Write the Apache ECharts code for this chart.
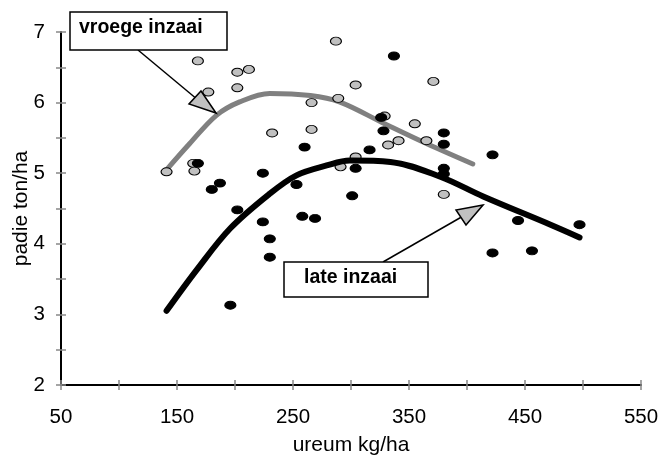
<!DOCTYPE html>
<html>
<head>
<meta charset="utf-8">
<script src="https://cdn.jsdelivr.net/npm/echarts@6/dist/echarts.min.js"></script>
<style>
  html, body { margin: 0; padding: 0; background: #fff; }
  #chart { width: 668px; height: 455px; }
</style>
</head>
<body>
<div id="chart"></div>
<script>
// scatter: vroege inzaai (grijs)
const vroegeX = [168, 202, 212, 202, 177, 266, 232, 266, 164, 165, 141, 287, 371, 304, 289, 329, 355, 341, 332, 365, 304, 291, 380];
const vroegeY = [6.59, 6.43, 6.47, 6.21, 6.15, 6.00, 5.57, 5.62, 5.14, 5.03, 5.02, 6.87, 6.30, 6.25, 6.06, 5.81, 5.70, 5.46, 5.40, 5.46, 5.23, 5.09, 4.70];
// scatter: late inzaai (zwart)
const lateX = [168, 224, 187, 180, 253, 260, 202, 224, 258, 269, 230, 230, 196, 337, 326, 328, 380, 380, 316, 422, 304, 380, 380, 301, 444, 497, 422, 456];
const lateY = [5.14, 5.00, 4.86, 4.77, 4.84, 5.37, 4.48, 4.31, 4.39, 4.36, 4.07, 3.81, 3.13, 6.66, 5.79, 5.60, 5.57, 5.41, 5.33, 5.26, 5.07, 5.07, 4.99, 4.68, 4.33, 4.27, 3.87, 3.90];
// trendlijnen
const vroegeCurveX = [140, 161, 184, 204, 230, 265, 290, 329, 365, 405];
const vroegeCurveY = [5.03, 5.42, 5.82, 6.01, 6.13, 6.10, 6.01, 5.70, 5.42, 5.13];
const lateCurveX = [141, 167, 196, 230, 253, 279, 299, 334, 377, 414, 472, 497];
const lateCurveY = [3.05, 3.63, 4.22, 4.71, 4.97, 5.11, 5.18, 5.16, 4.95, 4.67, 4.27, 4.09];
// assen
const xTicks = [50, 150, 250, 350, 450, 550];
const yTicks = [2, 3, 4, 5, 6, 7];

function zip(xs, ys) {
  return xs.map((x, i) => [x, ys[i]]);
}

const font = '"Liberation Sans", Arial, sans-serif';
const tickColor = '#888';
const tickStyle = { color: tickColor, width: 1.5 };

const chart = echarts.init(document.getElementById('chart'));

const baseX = {
  type: 'value',
  position: 'bottom',
  min: xTicks[0],
  max: xTicks[xTicks.length - 1],
  interval: 100,
  splitLine: { show: false }
};
const baseY = {
  type: 'value',
  position: 'left',
  min: yTicks[0],
  max: yTicks[yTicks.length - 1],
  interval: 1,
  splitLine: { show: false }
};

chart.setOption({
  animation: false,
  grid: { left: 61, right: 27, top: 32, bottom: 70, containLabel: false, outerBoundsMode: 'none' },
  xAxis: [
    Object.assign({}, baseX, {
      name: 'ureum kg/ha',
      nameLocation: 'middle',
      nameGap: 50,
      nameMoveOverlap: false,
      nameTextStyle: { fontFamily: font, fontSize: 21, color: '#000' },
      axisLine: { lineStyle: { color: '#000', width: 2 } },
      axisTick: { length: 5, lineStyle: tickStyle },
      minorTick: { show: true, splitNumber: 2, length: 5, lineStyle: tickStyle },
      axisLabel: { fontFamily: font, fontSize: 20.5, color: '#000', margin: 22 }
    }),
    Object.assign({}, baseX, {
      axisLine: { show: false },
      axisTick: { inside: true, length: 5, lineStyle: tickStyle },
      minorTick: { show: true, splitNumber: 2, length: 5, lineStyle: tickStyle },
      axisLabel: { show: false }
    })
  ],
  yAxis: [
    Object.assign({}, baseY, {
      name: 'padie ton/ha',
      nameLocation: 'middle',
      nameGap: 29,
      nameMoveOverlap: false,
      nameTextStyle: { fontFamily: font, fontSize: 21, color: '#000' },
      axisLine: { lineStyle: { color: '#000', width: 2 } },
      axisTick: { length: 5, lineStyle: tickStyle },
      minorTick: { show: true, splitNumber: 2, length: 5, lineStyle: tickStyle },
      axisLabel: { fontFamily: font, fontSize: 20.5, color: '#000', margin: 16 }
    }),
    Object.assign({}, baseY, {
      axisLine: { show: false },
      axisTick: { inside: true, length: 5, lineStyle: tickStyle },
      minorTick: { show: true, splitNumber: 2, length: 5, lineStyle: tickStyle },
      axisLabel: { show: false }
    })
  ],
  series: [
    {
      name: 'vroege trend',
      type: 'line',
      smooth: 0.35,
      symbol: 'none',
      data: zip(vroegeCurveX, vroegeCurveY),
      lineStyle: { color: '#808080', width: 5, cap: 'round' },
      z: 2
    },
    {
      name: 'vroege inzaai',
      type: 'scatter',
      symbol: 'circle',
      symbolSize: [11, 8],
      data: zip(vroegeX, vroegeY),
      itemStyle: { color: '#c0c0c0', borderColor: '#000', borderWidth: 1, opacity: 1 },
      z: 3
    },
    {
      name: 'late inzaai',
      type: 'scatter',
      symbol: 'circle',
      symbolSize: [11, 8],
      data: zip(lateX, lateY),
      itemStyle: { color: '#000', borderColor: '#000', borderWidth: 1, opacity: 1 },
      z: 4
    },
    {
      name: 'late trend',
      type: 'line',
      smooth: 0.35,
      symbol: 'none',
      data: zip(lateCurveX, lateCurveY),
      lineStyle: { color: '#000', width: 6, cap: 'round' },
      z: 5
    }
  ],
  graphic: [
    // vroege inzaai label + pijl
    { type: 'line', shape: { x1: 138, y1: 50, x2: 198, y2: 100 }, style: { stroke: '#000', lineWidth: 1.5 }, z: 10 },
    { type: 'polygon', shape: { points: [[216, 113], [201, 91], [189, 104]] }, style: { fill: '#c0c0c0', stroke: '#000', lineWidth: 1.5 }, z: 10 },
    { type: 'rect', shape: { x: 70, y: 12, width: 157, height: 38 }, style: { fill: '#fff', stroke: '#000', lineWidth: 1.5 }, z: 10 },
    { type: 'text', x: 79, y: 28, style: { text: 'vroege inzaai', font: 'bold 19.5px ' + font, fill: '#000', verticalAlign: 'middle' }, z: 11 },
    // late inzaai label + pijl
    { type: 'line', shape: { x1: 383, y1: 262, x2: 465, y2: 215 }, style: { stroke: '#000', lineWidth: 1.5 }, z: 10 },
    { type: 'polygon', shape: { points: [[483, 205], [456, 210], [466, 225]] }, style: { fill: '#c0c0c0', stroke: '#000', lineWidth: 1.5 }, z: 10 },
    { type: 'rect', shape: { x: 284, y: 262, width: 144, height: 35 }, style: { fill: '#fff', stroke: '#000', lineWidth: 1.5 }, z: 10 },
    { type: 'text', x: 304, y: 278, style: { text: 'late inzaai', font: 'bold 19.5px ' + font, fill: '#000', verticalAlign: 'middle' }, z: 11 }
  ]
});
</script>
</body>
</html>
